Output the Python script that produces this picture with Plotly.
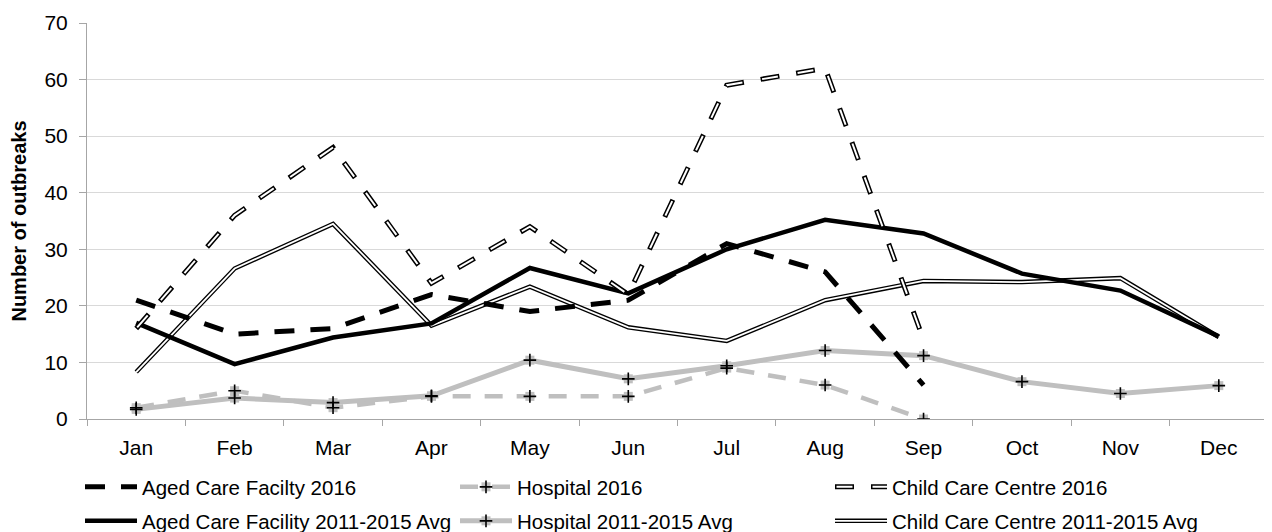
import plotly.graph_objects as go

months = ["Jan", "Feb", "Mar", "Apr", "May", "Jun", "Jul", "Aug", "Sep", "Oct", "Nov", "Dec"]
months_2016 = months[:9]

aged_2016 = [21, 15, 16, 22, 19, 21, 31, 26, 6]
hosp_2016 = [2, 5, 2, 4, 4, 4, 9, 6, 0]
child_2016 = [16, 36, 48, 24, 34, 22, 59, 62, 14]

aged_avg = [17, 9.7, 14.4, 16.9, 26.7, 22.2, 30, 35.2, 32.8, 25.7, 22.7, 14.6]
hosp_avg = [1.7, 3.7, 2.9, 4.1, 10.4, 7.1, 9.4, 12.1, 11.2, 6.6, 4.5, 5.9]
child_avg = [8.3, 26.6, 34.5, 16.5, 23.4, 16.2, 13.8, 21, 24.4, 24.2, 24.9, 14.5]

names_2016 = ["Aged Care Facilty 2016", "Hospital 2016", "Child Care Centre 2016"]
names_avg = ["Aged Care Facility 2011-2015 Avg", "Hospital 2011-2015 Avg",
             "Child Care Centre 2011-2015 Avg"]

GREY = "#bfbfbf"
CLEAR = "rgba(0,0,0,0)"
FONT = "Liberation Sans, Arial, sans-serif"

# The page body adds an 8px margin around the figure, so the figure is 8px smaller
W, H = 1264, 524

fig = go.Figure()

# Hospital average (grey solid with + markers)
fig.add_trace(go.Scatter(x=months, y=hosp_avg, mode="lines+markers", name=names_avg[1],
                         line=dict(color=GREY, width=5),
                         marker=dict(symbol="square", size=9, color=GREY),
                         legend="legend3", legendrank=2))
# Hospital 2016 (grey dashed with + markers)
fig.add_trace(go.Scatter(x=months_2016, y=hosp_2016, mode="lines+markers", name=names_2016[1],
                         line=dict(color=GREY, width=4.5, dash="18px,14px"),
                         marker=dict(symbol="square", size=9, color=GREY),
                         legend="legend", legendrank=2))
# Child care average (double line)
fig.add_trace(go.Scatter(x=months, y=child_avg, mode="lines", name=names_avg[2],
                         line=dict(color="black", width=4.5),
                         legend="legend3", legendrank=3))
fig.add_trace(go.Scatter(x=months, y=child_avg, mode="lines", name=names_avg[2],
                         line=dict(color="white", width=1.8),
                         legend="legend4", legendrank=3))
# Aged care average
fig.add_trace(go.Scatter(x=months, y=aged_avg, mode="lines", name=names_avg[0],
                         line=dict(color="black", width=4.5),
                         legend="legend3", legendrank=1))
# Aged care 2016
fig.add_trace(go.Scatter(x=months_2016, y=aged_2016, mode="lines", name=names_2016[0],
                         line=dict(color="black", width=5, dash="20px,16px"),
                         legend="legend", legendrank=1))
# Child care 2016 (double dashed line)
fig.add_trace(go.Scatter(x=months_2016, y=child_2016, mode="lines", name=names_2016[2],
                         line=dict(color="black", width=5, dash="19px,17px"),
                         legend="legend", legendrank=3))
fig.add_trace(go.Scatter(x=months_2016, y=child_2016, mode="lines", name=names_2016[2],
                         line=dict(color="white", width=2, dash="0px,1.5px,16px,18.5px"),
                         legend="legend2", legendrank=3))
# Black + on hospital markers
fig.add_trace(go.Scatter(x=months, y=hosp_avg, mode="markers", name=names_avg[1],
                         marker=dict(symbol="cross-thin", size=9, line=dict(color="black", width=1.6)),
                         legend="legend4", legendrank=2))
fig.add_trace(go.Scatter(x=months_2016, y=hosp_2016, mode="markers", name=names_2016[1],
                         marker=dict(symbol="cross-thin", size=9, line=dict(color="black", width=1.6)),
                         legend="legend2", legendrank=2))
# Invisible placeholders keeping overlay legends aligned
fig.add_trace(go.Scatter(x=months_2016, y=aged_2016, mode="lines", name=names_2016[0],
                         line=dict(color=CLEAR, width=1), hoverinfo="skip",
                         legend="legend2", legendrank=1))
fig.add_trace(go.Scatter(x=months, y=aged_avg, mode="lines", name=names_avg[0],
                         line=dict(color=CLEAR, width=1), hoverinfo="skip",
                         legend="legend4", legendrank=1))

def leg(y, transparent):
    return dict(orientation="h", xref="container", yref="container",
                x=72 / W, xanchor="left", y=y, yanchor="middle",
                bgcolor=CLEAR, borderwidth=0, itemwidth=52,
                entrywidth=308, entrywidthmode="pixels",
                font=dict(family=FONT, size=20.5, color=CLEAR if transparent else "black"),
                itemclick=False, itemdoubleclick=False)

row1 = 1 - 479 / H
row2 = 1 - 513 / H

fig.update_layout(
    width=W, height=H,
    margin=dict(l=79, r=4, t=15, b=113, autoexpand=False),
    paper_bgcolor="white", plot_bgcolor="white",
    font=dict(family=FONT, size=20, color="black"),
    showlegend=True,
    legend=leg(row1, False),
    legend2=leg(row1, True),
    legend3=leg(row2, False),
    legend4=leg(row2, True),
    xaxis=dict(type="category", categoryorder="array", categoryarray=months,
               range=[-0.5, 11.5], showgrid=False, showline=True, linecolor="#a6a6a6",
               linewidth=1, ticks="outside", tickson="boundaries", ticklen=6,
               tickcolor="#a6a6a6", tickfont=dict(size=21), ticklabelstandoff=10,
               zeroline=False),
    yaxis=dict(range=[0, 70], dtick=10, showgrid=True, gridcolor="#d9d9d9", gridwidth=1,
               showline=True, linecolor="#a6a6a6", linewidth=1, ticks="outside",
               ticklen=7, tickcolor="#a6a6a6", tickfont=dict(size=21),
               ticklabelstandoff=7, zeroline=False,
               title=dict(text="<b>Number of outbreaks</b>", font=dict(size=20), standoff=22)),
)

fig.write_html("out.html")
